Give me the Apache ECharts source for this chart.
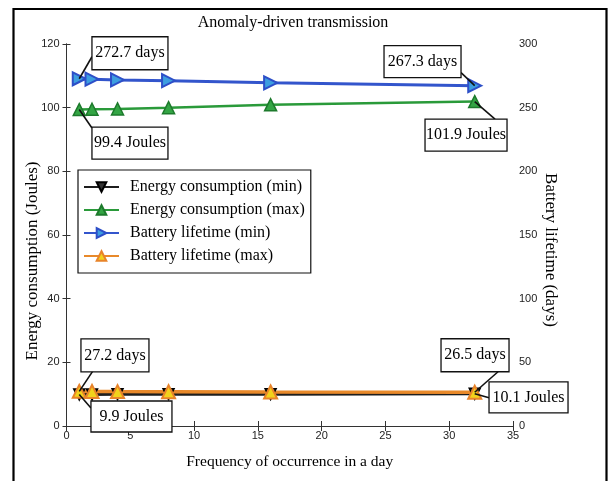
<!DOCTYPE html>
<html>
<head>
<meta charset="utf-8">
<script src="https://cdn.jsdelivr.net/npm/echarts@6/dist/echarts.min.js"></script>
<style>
html,body{margin:0;padding:0;background:#fff;}
#chart{width:608px;height:481px;}
</style>
</head>
<body>
<div id="chart"></div>
<script>
// ---- data ----
const frequency = [1, 2, 4, 8, 16, 32];
const energyMin = [9.9, 9.9, 10.0, 10.0, 10.0, 10.1];
const energyMax = [99.4, 99.5, 99.6, 100.0, 100.9, 101.9];
const batteryMin = [272.7, 272.4, 271.8, 271.2, 269.5, 267.3];
const batteryMax = [27.2, 27.1, 27.0, 26.9, 26.7, 26.5];
const xTicks = [0, 5, 10, 15, 20, 25, 30, 35];
const leftTicks = [0, 20, 40, 60, 80, 100, 120];
const rightTicks = [0, 50, 100, 150, 200, 250, 300];
const seriesNames = ['Energy consumption (min)', 'Energy consumption (max)', 'Battery lifetime (min)', 'Battery lifetime (max)'];

const SERIF = '"Liberation Serif", "DejaVu Serif", serif';
const SANS = '"Liberation Sans", Arial, sans-serif';

function pairs(vals) { return frequency.map((f, i) => [f, vals[i]]); }

const chart = echarts.init(document.getElementById('chart'), null, {renderer: 'canvas'});

const axisLine = {show: true, lineStyle: {color: '#333', width: 1}};
const tickLabel = {color: '#222', fontFamily: SANS, fontSize: 11};

chart.setOption({
  animation: false,
  backgroundColor: '#fff',
  title: {
    text: 'Anomaly-driven transmission',
    left: 288, top: 10, textAlign: 'center',
    textStyle: {fontFamily: SERIF, fontSize: 16, fontWeight: 'normal', color: '#000'}
  },
  grid: {left: 66.5, right: 95, top: 44, bottom: 55},
  legend: {
    orient: 'vertical', left: 78, top: 170,
    padding: [9, 6, 9, 5], itemGap: 7,
    itemWidth: 35, itemHeight: 12,
    borderColor: '#111', borderWidth: 1.2, backgroundColor: '#fff',
    textStyle: {fontFamily: SERIF, fontSize: 16, color: '#000', padding: [0, 0, 0, 6]},
    data: seriesNames
  },
  xAxis: [{
    type: 'value', min: xTicks[0], max: xTicks[xTicks.length - 1], interval: 5,
    axisLine: axisLine,
    axisTick: {show: true, inside: true, length: 5, lineStyle: {color: '#333'}},
    axisLabel: Object.assign({margin: 4}, tickLabel),
    splitLine: {show: false},
    name: 'Frequency of occurrence in a day', nameLocation: 'middle', nameGap: 28,
    nameMoveOverlap: false,
    nameTextStyle: {fontFamily: SERIF, fontSize: 15.5, color: '#000'}
  }, {
    type: 'value', position: 'top', min: xTicks[0], max: xTicks[xTicks.length - 1], interval: 5,
    axisLine: axisLine,
    axisTick: {show: true, inside: true, length: 5, lineStyle: {color: '#333'}},
    axisLabel: {show: false}, splitLine: {show: false}
  }],
  yAxis: [{
    type: 'value', min: leftTicks[0], max: leftTicks[leftTicks.length - 1], interval: 20,
    axisLine: axisLine,
    axisTick: {show: true, inside: false, length: 4, lineStyle: {color: '#333'}},
    axisLabel: Object.assign({margin: 7}, tickLabel),
    splitLine: {show: false},
    name: 'Energy consumption (Joules)', nameLocation: 'middle', nameGap: 25,
    nameMoveOverlap: false,
    nameTextStyle: {fontFamily: SERIF, fontSize: 17, color: '#000', padding: [0, 52, 0, 0]}
  }, {
    type: 'value', position: 'right', min: rightTicks[0], max: rightTicks[rightTicks.length - 1], interval: 50,
    axisLine: axisLine,
    axisTick: {show: true, inside: false, length: 4, lineStyle: {color: '#333'}},
    axisLabel: Object.assign({margin: 6}, tickLabel),
    splitLine: {show: false},
    name: 'Battery lifetime (days)', nameLocation: 'middle', nameGap: 29, nameRotate: -90,
    nameMoveOverlap: false,
    nameTextStyle: {fontFamily: SERIF, fontSize: 17, color: '#000', padding: [0, 0, 0, 30]}
  }],
  series: [{
    name: seriesNames[0], type: 'line', yAxisIndex: 0, data: pairs(energyMin),
    symbol: 'triangle', symbolRotate: 180, symbolSize: 11, showAllSymbol: true,
    lineStyle: {color: '#1e1e1e', width: 3},
    itemStyle: {color: '#333', borderColor: '#000', borderWidth: 1.5}
  }, {
    name: seriesNames[1], type: 'line', yAxisIndex: 0, data: pairs(energyMax),
    symbol: 'triangle', symbolSize: 12,
    lineStyle: {color: '#2a9a3a', width: 2.5},
    itemStyle: {color: '#33a544', borderColor: '#1d7a2c', borderWidth: 1.5}
  }, {
    name: seriesNames[2], type: 'line', yAxisIndex: 1, data: pairs(batteryMin),
    symbol: 'triangle', symbolRotate: -90, symbolSize: 13,
    lineStyle: {color: '#3355cc', width: 3},
    itemStyle: {color: '#3d9ee0', borderColor: '#2d4fc8', borderWidth: 2}
  }, {
    name: seriesNames[3], type: 'line', yAxisIndex: 1, data: pairs(batteryMax),
    symbol: 'triangle', symbolSize: 13,
    lineStyle: {color: '#e8892a', width: 3.5},
    itemStyle: {color: '#f2d21c', borderColor: '#e8842a', borderWidth: 2}
  }]
});

// ---- annotation boxes (offsets relative to the annotated point, in pixels) ----
const notes = [
  {s: 2, i: 0, text: batteryMin[0] + ' days',  bx: 12.7,  by: -42, w: 76, h: 33, lx: 12.7, ly: -22},
  {s: 1, i: 0, text: energyMax[0] + ' Joules', bx: 12.7,  by: 17.5, w: 76, h: 32, lx: 12.7, ly: 18.5},
  {s: 2, i: 5, text: batteryMin[5] + ' days',  bx: -90.7, by: -40, w: 77, h: 32, lx: -13.7, ly: -13},
  {s: 1, i: 5, text: energyMax[5] + ' Joules', bx: -49.7, by: 17.5, w: 82, h: 32, lx: 20.3, ly: 17.5},
  {s: 3, i: 0, text: batteryMax[0] + ' days',  bx: 1.7,   by: -52.5, w: 68, h: 33, lx: 13.7, ly: -20.5},
  {s: 0, i: 0, text: energyMin[0] + ' Joules', bx: 11.7,  by: 6.5, w: 81, h: 31, lx: 11.7, ly: 13.5},
  {s: 3, i: 5, text: batteryMax[5] + ' days',  bx: -33.7, by: -53.5, w: 68, h: 33, lx: 23.3, ly: -20.5},
  {s: 0, i: 5, text: energyMin[5] + ' Joules', bx: 14.3,  by: -12, w: 79, h: 31, lx: 14.3, ly: 4}
];
const seriesData = [energyMin, energyMax, batteryMin, batteryMax];

const graphics = [];
notes.forEach(n => {
  const p = chart.convertToPixel({seriesIndex: n.s}, [frequency[n.i], seriesData[n.s][n.i]]);
  graphics.push({
    type: 'line', z: 100,
    shape: {x1: p[0], y1: p[1], x2: p[0] + n.lx, y2: p[1] + n.ly},
    style: {stroke: '#111', lineWidth: 1.6}
  });
  graphics.push({
    type: 'rect', z: 101,
    shape: {x: p[0] + n.bx, y: p[1] + n.by, width: n.w, height: n.h},
    style: {fill: '#fff', stroke: '#111', lineWidth: 1.3}
  });
  graphics.push({
    type: 'text', z: 102,
    x: p[0] + n.bx + n.w / 2, y: p[1] + n.by + n.h / 2,
    style: {text: n.text, font: '16px ' + SERIF, fill: '#000', align: 'center', verticalAlign: 'middle'}
  });
});
// outer frame of the figure
graphics.push({
  type: 'rect', z: 0, silent: true,
  shape: {x: 13.5, y: 9, width: 593, height: 490},
  style: {fill: 'none', stroke: '#000', lineWidth: 2.2}
});
chart.setOption({graphic: graphics});
</script>
</body>
</html>
